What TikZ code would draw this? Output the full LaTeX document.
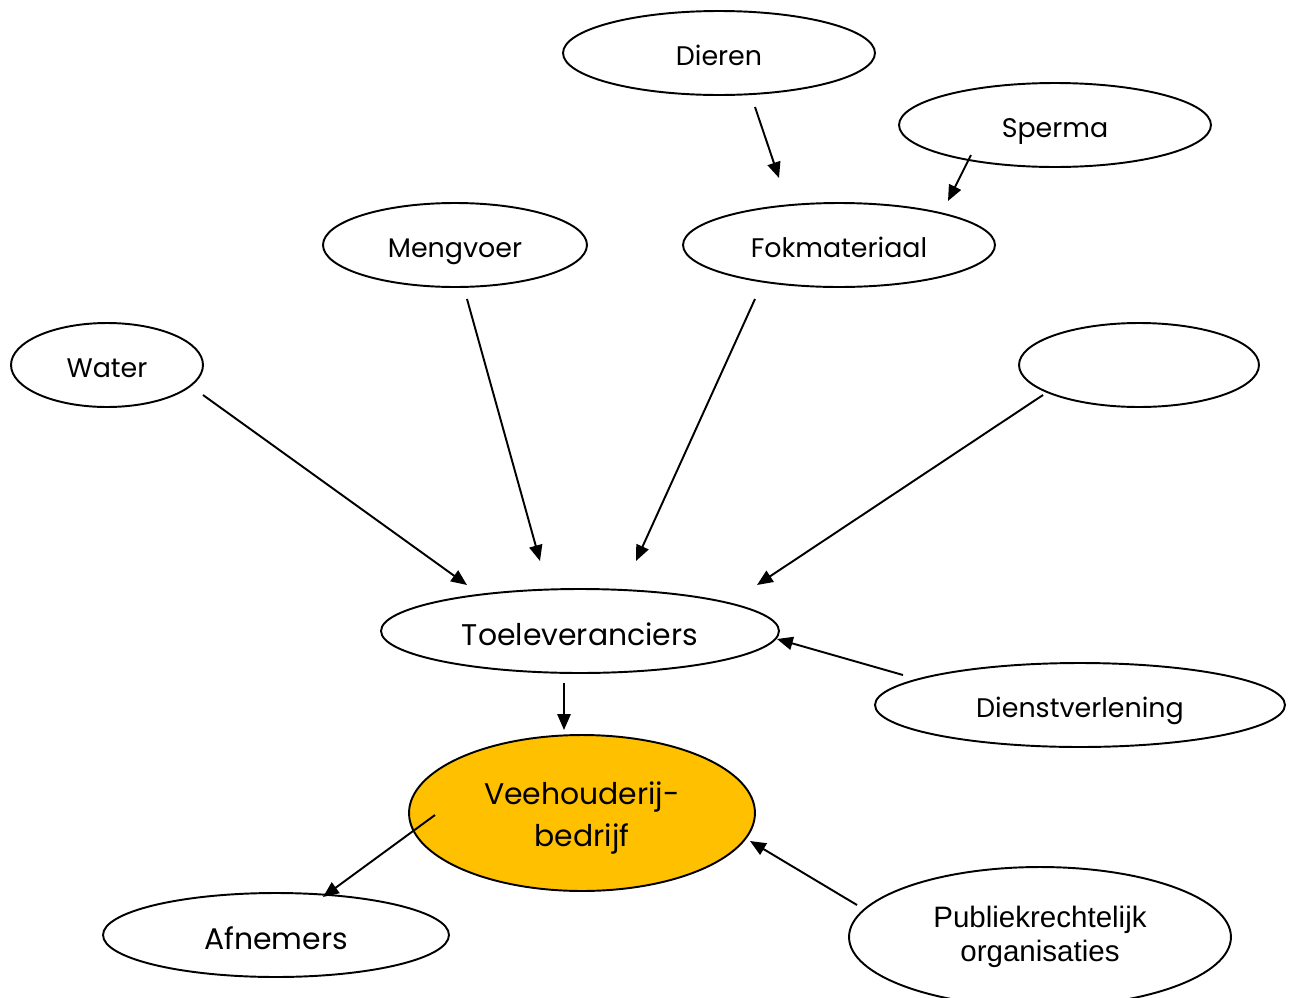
\documentclass[tikz,border=0pt]{standalone}
\usepackage{fontspec}
\setmainfont{Poppins}
\newfontfamily\arialfont{Liberation Sans}
\usetikzlibrary{shapes.geometric,arrows.meta}
\definecolor{veeh}{RGB}{255,192,0}
\begin{document}
\begin{tikzpicture}[x=0.02cm, y=-0.02cm,
    bubble/.style={draw, ellipse, line width=1.1pt, inner sep=0pt},
    arr/.style={-{Triangle[length=9pt,width=7.5pt]}, line width=1.1pt},
    lbl/.style={font=\fontsize{15.3}{18}\selectfont, text height=15pt, text depth=0.6pt},
    big/.style={font=\fontsize{17}{24}\selectfont}]
    \useasboundingbox (0,0) rectangle (1296,998);

    % ellipses
    \node[bubble, lbl, minimum width=6.24cm, minimum height=1.68cm] (dieren) at (719,53) {Dieren};
    \node[bubble, lbl, minimum width=6.24cm, minimum height=1.68cm] (sperma) at (1055,125) {Sperma};
    \node[bubble, lbl, minimum width=5.28cm, minimum height=1.68cm] (mengvoer) at (455,245) {Mengvoer};
    \node[bubble, lbl, minimum width=6.24cm, minimum height=1.68cm] (fok) at (839,245) {Fokmateriaal};
    \node[bubble, lbl, minimum width=3.84cm, minimum height=1.68cm] (water) at (107,365) {Water};
    \node[bubble, minimum width=4.80cm, minimum height=1.68cm] (leeg) at (1139,365) {};
    \node[bubble, big, text height=16.5pt, text depth=0.5pt, minimum width=7.96cm, minimum height=1.68cm] (toelev) at (580,631) {Toeleveranciers};
    \node[bubble, lbl, minimum width=8.20cm, minimum height=1.68cm] (dienst) at (1080,705) {Dienstverlening};
    \node[bubble, big, fill=veeh, minimum width=6.92cm, minimum height=3.12cm] (veeh) at (582,813) {};
    \node[big, align=center] (veehtxt) at (582,818) {Veehouderij-\\bedrijf};
    \node[bubble, big, text height=16.5pt, text depth=0.5pt, minimum width=6.92cm, minimum height=1.68cm] (afnemers) at (276,935) {Afnemers};
    \node[bubble, align=center, font=\arialfont\fontsize{16.8}{19}\selectfont, minimum width=7.64cm, minimum height=2.80cm] (publiek) at (1040,937) {Publiekrechtelijk\\organisaties};

    % arrow ends
    \coordinate (d1) at (755,107);  \coordinate (d2) at (779,178);
    \coordinate (s1) at (971,155);  \coordinate (s2) at (948,201);
    \coordinate (m1) at (467,299);  \coordinate (m2) at (540,561);
    \coordinate (f1) at (755,299);  \coordinate (f2) at (636,561);
    \coordinate (w1) at (203,395);  \coordinate (w2) at (467,585);
    \coordinate (l1) at (1043,395); \coordinate (l2) at (757,585);
    \coordinate (ds1) at (903,675); \coordinate (ds2) at (777,639);
    \coordinate (t1) at (564,683);  \coordinate (t2) at (564,730);
    \coordinate (v1) at (435,815);  \coordinate (v2) at (323,897);
    \coordinate (p1) at (857,905);  \coordinate (p2) at (750,841);

    \draw[arr] (d1) -- (d2);
    \draw[arr] (s1) -- (s2);
    \draw[arr] (m1) -- (m2);
    \draw[arr] (f1) -- (f2);
    \draw[arr] (w1) -- (w2);
    \draw[arr] (l1) -- (l2);
    \draw[arr] (ds1) -- (ds2);
    \draw[arr] (t1) -- (t2);
    \draw[arr] (v1) -- (v2);
    \draw[arr] (p1) -- (p2);
\end{tikzpicture}
\end{document}
